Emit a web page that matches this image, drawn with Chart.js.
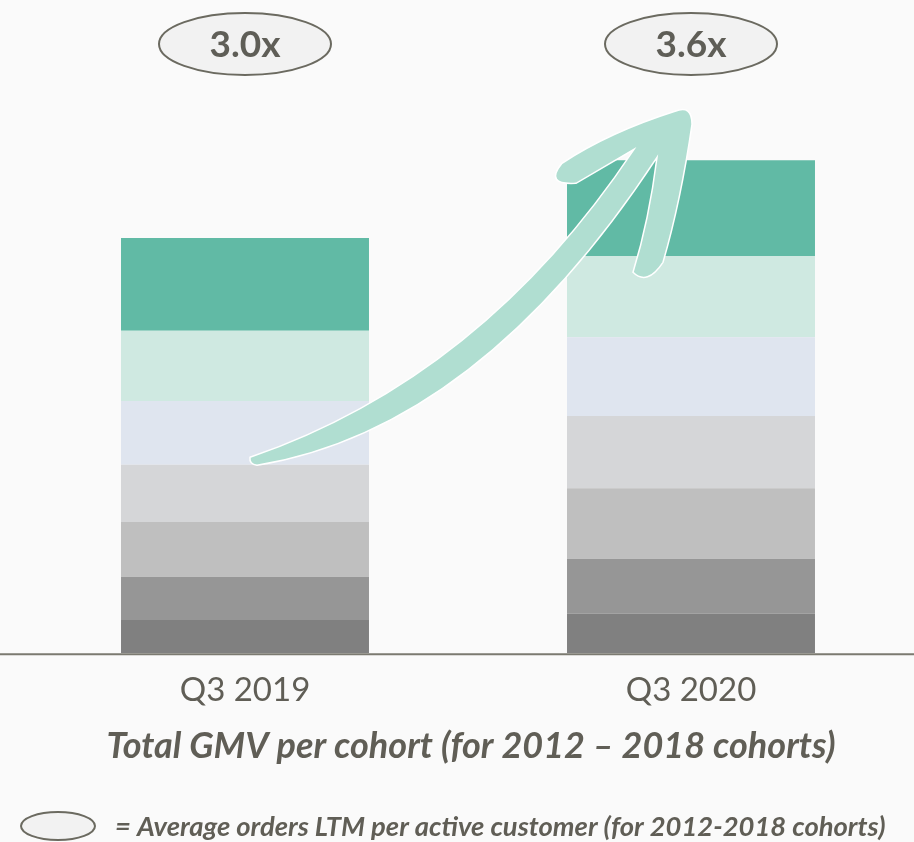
<!DOCTYPE html>
<html>
<head>
<meta charset="utf-8">
<script src="https://cdn.jsdelivr.net/npm/chart.js@4/dist/chart.umd.min.js"></script>
<style>
  html, body { margin: 0; padding: 0; background: #fafafa; overflow: hidden; }
  #wrap { width: 914px; height: 842px; position: relative; }
</style>
</head>
<body>
<div id="wrap"><canvas id="gmvChart"></canvas></div>
<script>
// === DATA ===
const categories = ['Q3 2019', 'Q3 2020'];
const multiples = ['3.0x', '3.6x'];
const cohorts = ['2012', '2013', '2014', '2015', '2016', '2017', '2018'];
const gmv2012 = [33.3, 39.6];
const gmv2013 = [43.3, 55.0];
const gmv2014 = [54.7, 70.4];
const gmv2015 = [57.3, 72.3];
const gmv2016 = [63.7, 78.7];
const gmv2017 = [70.3, 81.0];
const gmv2018 = [92.7, 96.0];
const cohortColors = ['#808080', '#969696', '#bfbfbf', '#d5d6d8', '#dfe5ef', '#cfe9e1', '#61baa5'];

const chartTitle = 'Total GMV per cohort (for 2012 \u2013 2018 cohorts)';
const legendText = '= Average orders LTM per active customer (for 2012-2018 cohorts)';

const series = [gmv2012, gmv2013, gmv2014, gmv2015, gmv2016, gmv2017, gmv2018];

const textGray = '#605e56';
const ovalStroke = '#6b6a60';

function oval(ctx, x, y, rx, ry) {
  ctx.beginPath();
  ctx.ellipse(x, y, rx, ry, 0, 0, Math.PI * 2);
  ctx.fillStyle = '#f2f2f2';
  ctx.fill();
  ctx.lineWidth = 2;
  ctx.strokeStyle = ovalStroke;
  ctx.stroke();
}

// === ARROW + TEXT OVERLAY ===
const overlay = {
  id: 'overlay',
  afterDatasetsDraw(chart) {
    const ctx = chart.ctx;
    const top = chart.getDatasetMeta(series.length - 1).data[1];
    const ox = top.x, oy = top.y;
    ctx.save();
    ctx.translate(ox, oy);
    ctx.beginPath();
    ctx.moveTo(-441, 297);
    ctx.quadraticCurveTo(-209, 217, -57, -11);
    ctx.lineTo(-115, 23);
    ctx.quadraticCurveTo(-147, 25, -129, 3);
    ctx.quadraticCurveTo(-82, -28, -16, -49);
    ctx.quadraticCurveTo(1, -56, 1, -36);
    ctx.quadraticCurveTo(-10, 40, -28, 102);
    ctx.quadraticCurveTo(-44, 126, -58, 112);
    ctx.quadraticCurveTo(-42, 60, -34, -3);
    ctx.quadraticCurveTo(-212, 268, -434, 305);
    ctx.quadraticCurveTo(-442, 304, -441, 297);
    ctx.closePath();
    ctx.fillStyle = '#b0ded1';
    ctx.fill();
    ctx.lineWidth = 1.5;
    ctx.strokeStyle = '#ffffff';
    ctx.stroke();
    ctx.restore();
  },
  afterDraw(chart) {
    const ctx = chart.ctx;
    const xs = chart.scales.x, ys = chart.scales.y;
    const base = ys.getPixelForValue(0);
    ctx.save();
    // axis line
    ctx.strokeStyle = '#7b7a70';
    ctx.lineWidth = 2;
    ctx.beginPath();
    ctx.moveTo(0, base + 1);
    ctx.lineTo(chart.width, base + 1);
    ctx.stroke();

    ctx.textAlign = 'center';
    ctx.textBaseline = 'middle';
    categories.forEach((c, i) => {
      const x = xs.getPixelForValue(i);
      ctx.fillStyle = textGray;
      ctx.font = '400 33px Lato';
      ctx.fillText(c, x, base + 37);
      oval(ctx, x, 44, 86, 31);
      ctx.fillStyle = '#5f5e57';
      ctx.font = '700 37px Lato';
      ctx.fillText(multiples[i], x, 45);
    });

    ctx.fillStyle = textGray;
    ctx.font = 'italic 700 36px Lato';
    ctx.fillText(chartTitle, (chart.chartArea.left + chart.chartArea.right) / 2 + 3, base + 93);

    oval(ctx, 58, 826, 37, 14);
    ctx.textAlign = 'left';
    ctx.fillStyle = textGray;
    ctx.font = 'italic 700 27.4px Lato';
    ctx.fillText(legendText, 115, 827);
    ctx.restore();
  }
};

new Chart(document.getElementById('gmvChart'), {
  type: 'bar',
  data: {
    labels: categories,
    datasets: cohorts.map((c, i) => ({
      label: c,
      data: series[i],
      backgroundColor: cohortColors[i],
      borderWidth: 0,
      barPercentage: 0.556,
      categoryPercentage: 1
    }))
  },
  options: {
    responsive: true,
    maintainAspectRatio: false,
    animation: false,
    layout: { padding: { top: 93, left: 22, right: 0, bottom: 188.7 } },
    plugins: { legend: { display: false }, tooltip: { enabled: false } },
    scales: {
      x: { stacked: true, display: false },
      y: { stacked: true, display: false, min: 0, max: 560.3 }
    }
  },
  plugins: [overlay]
});
</script>
</body>
</html>
